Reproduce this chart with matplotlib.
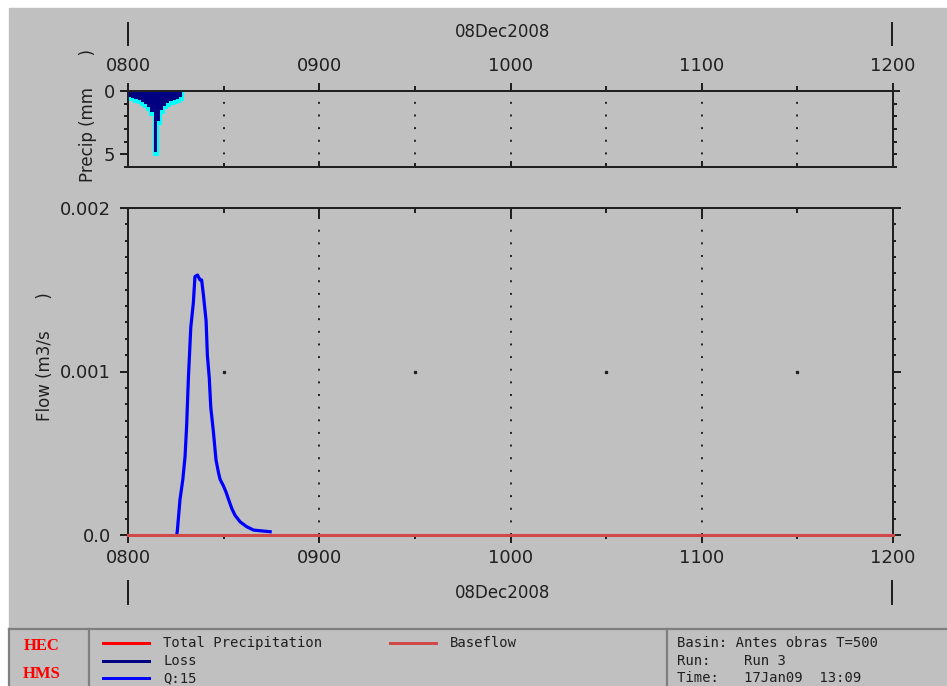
import matplotlib
matplotlib.use("Agg")
import matplotlib.pyplot as plt
import numpy as np
from matplotlib.lines import Line2D
from matplotlib.patches import Rectangle

# minutes after 0800, 08Dec2008
hour_ticks = [0, 60, 120, 180, 240]
hour_labels = ["0800", "0900", "1000", "1100", "1200"]
half_hours = [30, 90, 150, 210]

# hyetograph, 1-minute blocks (mm)
precip_edges = list(range(18))
precip_total = [0.6, 0.65, 0.75, 0.85, 1.0, 1.2, 1.45, 1.8, 5.0, 2.5,
                1.65, 1.3, 1.1, 0.95, 0.85, 0.75, 0.65]
precip_loss = [0.47, 0.52, 0.61, 0.71, 0.85, 1.05, 1.3, 1.65, 4.85, 2.35,
               1.5, 1.15, 0.95, 0.8, 0.7, 0.6, 0.5]

# outflow hydrograph (m3/s)
flow_t = [15.3, 15.5, 16.3, 17.2, 17.9, 18.4, 18.97, 19.7, 20.5, 21.0, 21.8,
          22.6, 23.1, 23.65, 24.5, 24.9, 25.5, 25.97, 26.8, 27.6, 28.4, 28.9,
          29.95, 30.8, 31.5, 32.6, 33.6, 35.2, 37.3, 39.4, 44.6]
flow_q = [0.0, 0.00003, 0.000215, 0.00034, 0.00048, 0.00067, 0.00097, 0.00127,
          0.00142, 0.00158, 0.00159, 0.00156, 0.00156, 0.00147, 0.00131, 0.00110,
          0.00096, 0.00078, 0.00063, 0.00046, 0.00038, 0.00034, 0.0003, 0.00026,
          0.00022, 0.00016, 0.00012, 0.00008, 0.00005, 0.00003, 0.00002]
base_t = [0, 240]
base_q = [0.0, 0.0]

W, H = 947, 686
GRAY = "#c0c0c0"
INK = "#202020"
PX = 72 / 100  # points per pixel


def fx(px):
    return px / W


def fy(py):
    return 1 - py / H


plt.rcParams['font.family'] = ['DejaVu Sans']
fig = plt.figure(figsize=(W / 100, H / 100), dpi=100, facecolor="white")
fig.patches.append(Rectangle((fx(9), 0), 1, fy(8), transform=fig.transFigure,
                             color=GRAY, zorder=-10))

left, right = 128, 893
ax_p = fig.add_axes([fx(left), fy(167), (right - left) / W, (167 - 91) / H])
ax_f = fig.add_axes([fx(left), fy(535), (right - left) / W, (535 - 208) / H])

for ax in (ax_p, ax_f):
    ax.set_facecolor(GRAY)
    ax.set_xlim(0, 240)
    for s in ax.spines.values():
        s.set_color(INK)
        s.set_linewidth(2 * PX)
    ax.set_xticks(hour_ticks)
    ax.set_xticks(half_hours, minor=True)

# ---- precipitation panel
ax_p.set_ylim(6, 0)
ax_p.stairs(precip_total, precip_edges, fill=True, color="#00ffff", baseline=0)
ax_p.stairs(precip_total, precip_edges, color="#00ffff", lw=2.2)
ax_p.stairs(precip_loss, precip_edges, fill=True, color="#000080", baseline=0)
for x in half_hours + hour_ticks[1:-1]:
    ax_p.axvline(x, color=INK, lw=1.4, ls=(0, (1, 5.5)))

ax_p.tick_params(axis="x", which="both", direction="in", labelbottom=False,
                 color=INK, width=2 * PX)
ax_p.tick_params(axis="x", which="major", length=6 * PX)
ax_p.tick_params(axis="x", which="minor", length=4 * PX)
ax_p.set_yticks([0, 5])
ax_p.set_yticklabels(["0", "5"])
ax_p.set_yticks([1, 2, 3, 4, 6], minor=True)
ax_p.tick_params(axis="y", which="both", direction="out", color=INK,
                 width=2 * PX, labelsize=13, pad=3.6, labelcolor=INK)
ax_p.tick_params(axis="y", which="major", length=8 * PX)
ax_p.tick_params(axis="y", which="minor", length=4 * PX)

top = ax_p.secondary_xaxis("top")
top.set_xticks(hour_ticks)
top.set_xticklabels(hour_labels)
top.set_xticks(half_hours, minor=True)
top.tick_params(which="both", direction="out", color=INK, width=2 * PX,
                labelsize=13, labelcolor=INK, pad=5.7)
top.tick_params(which="major", length=8 * PX)
top.tick_params(which="minor", length=5 * PX)
top.spines["top"].set_visible(False)

rp = ax_p.secondary_yaxis("right")
rp.set_yticks([0])
rp.set_yticklabels([])
rp.set_yticks([1, 2, 3, 4, 5, 6], minor=True)
rp.tick_params(which="both", direction="out", color=INK, width=2 * PX)
rp.tick_params(which="major", length=7 * PX)
rp.tick_params(which="minor", length=4 * PX)
rp.spines["right"].set_visible(False)

# ---- flow panel
ax_f.set_ylim(0, 0.002)
ax_f.plot(flow_t, flow_q, color="#0000ff", lw=2.3, zorder=3)
ax_f.plot(base_t, base_q, color="#d04848", lw=2.2, zorder=4, clip_on=False)
for x in hour_ticks[1:-1]:
    ax_f.axvline(x, color=INK, lw=1.4, ls=(0, (1, 5.5)))
ax_f.plot(half_hours, [0.001] * len(half_hours), ls="none", marker="s",
          ms=1.4, color=INK)

ax_f.set_xticklabels(hour_labels)
ax_f.tick_params(axis="x", which="both", direction="out", color=INK,
                 width=2 * PX, labelsize=13, labelcolor=INK, pad=4.3)
ax_f.tick_params(axis="x", which="major", length=8 * PX)
ax_f.tick_params(axis="x", which="minor", length=4 * PX)
ax_f.set_yticks([0, 0.001, 0.002])
ax_f.set_yticklabels(["0.0", "0.001", "0.002"])
ax_f.set_yticks(np.arange(1, 20) * 0.0001, minor=True)
ax_f.tick_params(axis="y", which="both", direction="out", color=INK,
                 width=2 * PX, labelsize=13, labelcolor=INK, pad=6.4)
ax_f.tick_params(axis="y", which="major", length=8 * PX)
ax_f.tick_params(axis="y", which="minor", length=3 * PX)

tf = ax_f.secondary_xaxis("top")
tf.set_xticks(hour_ticks)
tf.set_xticklabels([])
tf.set_xticks(half_hours, minor=True)
tf.tick_params(which="both", direction="in", color=INK, width=2 * PX)
tf.tick_params(which="major", length=10 * PX)
tf.tick_params(which="minor", length=5 * PX)
tf.spines["top"].set_visible(False)

rf = ax_f.secondary_yaxis("right")
rf.set_yticks([0, 0.001, 0.002])
rf.set_yticklabels([])
rf.set_yticks(np.arange(1, 20) * 0.0001, minor=True)
rf.tick_params(which="both", direction="out", color=INK, width=2 * PX)
rf.tick_params(which="major", length=8 * PX)
rf.tick_params(which="minor", length=3 * PX)
rf.spines["right"].set_visible(False)

# ---- axis titles and date markers
fig.text(fx(88), fy(115), "Precip (mm      )", rotation=90, ha="center",
         va="center", fontsize=12, color=INK)
fig.text(fx(45), fy(357), "Flow (m3/s      )", rotation=90, ha="center",
         va="center", fontsize=12, color=INK)
fig.text(fx(503), fy(32), "08Dec2008", ha="center", va="center",
         fontsize=12, color=INK)
fig.text(fx(503), fy(593), "08Dec2008", ha="center", va="center",
         fontsize=12, color=INK)
for x in (128, 892):
    fig.add_artist(Line2D([fx(x), fx(x)], [fy(23), fy(45)], color=INK,
                          lw=2 * PX, transform=fig.transFigure))
    fig.add_artist(Line2D([fx(x), fx(x)], [fy(581), fy(604)], color=INK,
                          lw=2 * PX, transform=fig.transFigure))

# ---- legend / info panel
panel = "#808080"
fig.add_artist(Line2D([fx(9), 1], [fy(629), fy(629)], color=panel, lw=1.6,
                      transform=fig.transFigure))
for x in (9, 89, 667):
    fig.add_artist(Line2D([fx(x), fx(x)], [fy(629), 0], color=panel, lw=1.6,
                          transform=fig.transFigure))

fig.text(fx(42), fy(646), "HEC", ha="center", va="center", fontsize=12,
         color="#ff0000", fontweight="bold", family="Liberation Serif")
fig.text(fx(42), fy(674), "HMS", ha="center", va="center", fontsize=12,
         color="#ff0000", fontweight="bold", family="Liberation Serif")

legend_items = [
    ("Total Precipitation", "#ff0000", 103, 643),
    ("Baseflow", "#d04848", 390, 643),
    ("Loss", "#000080", 103, 661),
    ("Q:15", "#0000ff", 103, 678),
]
for label, col, x0, y0 in legend_items:
    fig.add_artist(Line2D([fx(x0), fx(x0 + 46)], [fy(y0), fy(y0)], color=col,
                          lw=3 * PX, transform=fig.transFigure))
    fig.text(fx(x0 + 60), fy(y0), label, ha="left", va="center", fontsize=10,
             family="DejaVu Sans Mono", color=INK)

info = [("Basin: Antes obras T=500", 643), ("Run:    Run 3", 661),
        ("Time:   17Jan09  13:09", 678)]
for txt, y0 in info:
    fig.text(fx(677), fy(y0), txt, ha="left", va="center", fontsize=10,
             family="DejaVu Sans Mono", color=INK)

fig.savefig("out.png", dpi=100, facecolor=fig.get_facecolor())
